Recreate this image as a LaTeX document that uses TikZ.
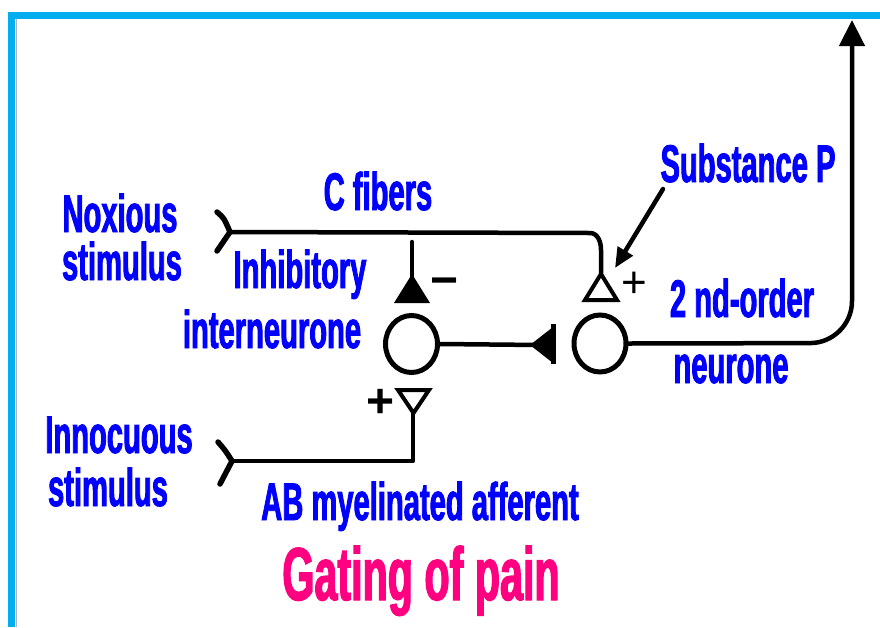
\documentclass[tikz,border=0pt]{standalone}
\usepackage{fontspec}
\setmainfont{Liberation Sans}
\newfontfamily\lblfont{Liberation Sans}[FakeStretch=0.55,FakeBold=1.6]
\newfontfamily\signfont{Liberation Sans}
\usetikzlibrary{shapes.geometric,arrows.meta}
\definecolor{framec}{RGB}{0,174,239}
\definecolor{pinkc}{RGB}{255,0,128}
\tikzset{
  lbl/.style={font=\lblfont\bfseries\fontsize{53}{48}\selectfont, text=blue, inner sep=0pt, anchor=base},
  title/.style={font=\lblfont\bfseries\fontsize{75}{75}\selectfont, text=pinkc, inner sep=0pt, anchor=base},
  sign/.style={font=\signfont\fontsize{44}{44}\selectfont, inner sep=0pt},
  boldsign/.style={font=\signfont\bfseries\fontsize{48}{48}\selectfont, inner sep=0pt},
  soma/.style={ellipse, draw, line width=5pt, minimum width=52pt, minimum height=57pt, inner sep=0pt},
  nerve/.style={line width=4.5pt, line cap=round, line join=round},
  forkline/.style={line width=5.5pt, line cap=round, line join=round},
  tri/.style={line width=4pt, line join=miter}
}
\begin{document}
\begin{tikzpicture}[x=1pt,y=-1pt]
\useasboundingbox (0,0) rectangle (880,627);
\fill[white] (0,0) rectangle (880,627);
% frame
\fill[framec] (8,12) rectangle (880,19);
\fill[framec] (8,12) rectangle (15,627);
\draw[gray!60, line width=1pt] (16.5,19) -- (16.5,627);

% labels
\node[lbl] (nox1) at (120,232) {Noxious};
\node[lbl] (nox2) at (122,280) {stimulus};
\node[lbl] (cfib) at (378,210) {C fibers};
\node[lbl] (inh1) at (300,288) {Inhibitory};
\node[lbl] (inh2) at (272,348) {interneurone};
\node[lbl] (subp) at (748,182) {Substance P};
\node[lbl] (ord1) at (742,317) {2 nd-order};
\node[lbl] (ord2) at (731,383) {neurone};
\node[lbl] (inn1) at (119,453) {Innocuous};
\node[lbl] (inn2) at (108,506) {stimulus};
\node[lbl] (ab) at (420,520) {AB myelinated afferent};
\node[title] (gate) at (421,600) {Gating of pain};

% neurons
\node[soma] (inter) at (411.5,344) {};
\node[soma] (second) at (600,343.5) {};

% coordinates
\coordinate (cfork) at (230,232);
\coordinate (abfork) at (232,461);
\coordinate (inhsyn) at (412,242);
\coordinate (top) at (852,20);
\coordinate (subtip) at (615,268);

% C fibre
\draw[forkline] (217,212) .. controls (224,218) .. (cfork) .. controls (223,241) .. (217,251);
\draw[nerve] (cfork) -- (590,233) to[out=0,in=90] (601,250) -- (601,273);
\draw[tri] (601,274) -- (617,300) -- (585,300) -- cycle;
\node[sign] (plusR) at (634,285) {+};

% Substance P arrow
\draw[nerve, -{Triangle[length=20pt,width=17pt]}] (663,189) -- (subtip);

% inhibitory synapse on interneurone
\draw[nerve] (inhsyn) -- (412,280);
\fill (412,274) -- (430,303) -- (394,303) -- cycle;
\node[boldsign] (minus) at (445,287) {−};

% interneurone to second-order neurone (inhibitory)
\draw[nerve] (inter.east) -- (540,345);
\fill (530,345) -- (553,327) -- (553,363) -- cycle;
\draw[line width=5pt] (553,324) -- (553,364);

% AB fibre
\draw[forkline] (218,442) .. controls (225,450) .. (abfork) .. controls (226,472) .. (220,484);
\draw[nerve] (abfork) -- (413,461) -- (413,414);
\draw[tri] (398,390) -- (429,390) -- (413.5,413) -- cycle;
\node[boldsign] (plusB) at (381,403) {+};

% output of second order neurone
\draw[nerve, rounded corners=42pt, -{Triangle[length=26pt,width=25pt]}] (second.east) -- (852,343) -- (top);
\end{tikzpicture}
\end{document}
